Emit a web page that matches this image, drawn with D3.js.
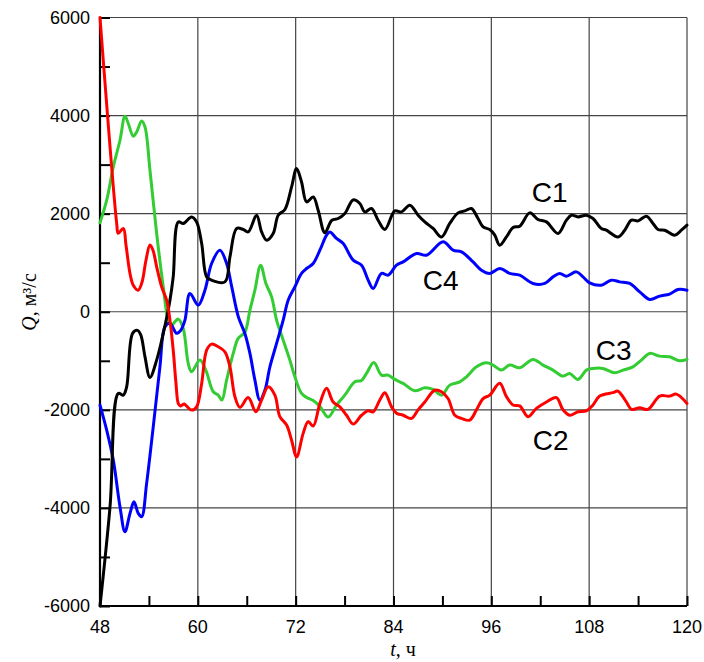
<!DOCTYPE html>
<html>
<head>
<meta charset="utf-8">
<script src="https://cdn.jsdelivr.net/npm/d3@7"></script>
<style>
  body { margin: 0; background: #fff; }
  .tick-label { font-family: "Liberation Sans", Arial, sans-serif; font-size: 18px; fill: #000; }
  .title { font-family: "Liberation Serif", "Times New Roman", serif; font-size: 20px; fill: #000; }
  .curve-label { font-family: "Liberation Sans", Arial, sans-serif; font-size: 28px; fill: #000; }
</style>
</head>
<body>
<div id="chart"></div>
<script>
// t (h), Q (m3/s)
const c1 = [[48,-6000],[49.23,-3976],[50.24,-1665],[50.86,-1700],[51.27,-1530],[52.0,-440],[52.6,-380],[53.0,-470],
  [53.52,-919],[54.13,-1339],[54.95,-986],[55.76,-442],[56.58,236],[56.98,711],[57.6,1832],[58.21,1800],[59.23,1934],
  [59.85,1832],[60.47,1392],[61.08,711],[61.69,644],[63.32,609],[63.94,1119],[64.76,1698],[65.57,1677],[66.18,1628],
  [67.21,1969],[67.82,1628],[68.43,1459],[69.24,1596],[69.86,1969],[70.68,2085],[71.5,2546],[72.11,2920],[72.72,2647],
  [73.34,2240],[74.15,2342],[74.76,2071],[75.58,1612],[76.44,1867],[77.22,1901],[78.03,2003],[79.05,2280],[79.87,2207],
  [80.48,2036],[81.3,2105],[82.11,1867],[82.94,1677],[84.16,2056],[84.98,2036],[86.0,2172],[87.02,1969],[87.84,1832],
  [88.86,1698],[89.89,1526],[90.9,1800],[91.92,2016],[92.74,2056],[93.56,2105],[94.37,1901],[94.99,1730],[95.81,1677],
  [96.42,1561],[97.03,1357],[97.85,1526],[98.66,1718],[99.48,1745],[100.71,2016],[101.73,1881],[102.76,1832],
  [104.18,1596],[105.21,1867],[105.82,1969],[106.63,1934],[107.66,1969],[108.47,1901],[109.5,1698],[110.11,1663],
  [111.53,1526],[112.36,1663],[113.18,1867],[113.99,1853],[115.02,1948],[115.83,1800],[116.44,1677],[117.26,1663],
  [118.49,1561],[119.31,1663],[120,1765]];

const c2 = [[48,6000],[50.05,1800],[50.24,1600],[50.86,1700],[51.19,1357],[51.68,780],[52.08,540],[52.69,440],
  [53.15,600],[53.64,1050],[54.13,1360],[54.5,1255],[54.95,915],[55.56,507],[56.18,230],[56.58,-170],[56.98,-780],
  [57.32,-1460],[57.6,-1870],[57.85,-1920],[58.33,-1880],[58.63,-1924],[59.24,-2005],[59.85,-1938],[60.47,-1461],
  [61.08,-783],[61.69,-660],[62.5,-715],[63.32,-817],[63.94,-1123],[64.55,-1734],[65.16,-1950],[66.18,-1750],
  [67.12,-2040],[67.82,-1800],[68.63,-1530],[69.45,-1700],[70.06,-2140],[70.89,-2310],[71.5,-2620],[72.11,-2960],
  [72.92,-2480],[73.53,-2240],[74.15,-2330],[74.97,-1870],[75.79,-1560],[76.6,-1840],[77.42,-1940],[78.24,-2110],
  [79.05,-2290],[80.08,-2110],[80.89,-2020],[81.5,-2040],[82.32,-1800],[82.94,-1650],[83.76,-1940],[84.37,-2070],
  [85.18,-2110],[86.21,-2175],[87.02,-2000],[87.84,-1840],[89.06,-1600],[89.89,-1630],[90.69,-1770],[91.52,-2110],
  [92.34,-2175],[93.35,-2210],[94.18,-2000],[94.99,-1770],[95.81,-1700],[97.03,-1460],[97.85,-1730],[98.66,-1900],
  [99.48,-1920],[100.5,-2140],[101.53,-1970],[102.76,-1840],[103.98,-1750],[104.79,-2000],[105.61,-2110],
  [106.63,-2040],[107.66,-2020],[108.47,-1900],[109.29,-1720],[110.92,-1650],[111.53,-1620],[112.56,-1840],
  [113.18,-1990],[114.2,-1960],[115.21,-1990],[116.65,-1720],[117.87,-1720],[118.69,-1680],[120,-1870]];

const c3 = [[48,1812],[48.82,2274],[49.63,2953],[50.45,3497],[51.06,3986],[51.47,3838],[52.08,3579],[52.5,3666],
  [53.11,3891],[53.52,3768],[54.13,2886],[54.95,1596],[55.76,507],[56.37,-171],[56.79,-280],[57.2,-200],[57.6,-150],
  [58.21,-340],[58.82,-1054],[59.23,-1225],[60.26,-986],[61.0,-1200],[61.89,-1632],[62.5,-1700],[62.95,-1802],
  [63.53,-1394],[64.34,-850],[64.95,-544],[65.77,-416],[66.39,33],[67.0,440],[67.7,950],[68.35,577],[69.05,304],
  [69.66,-171],[70.47,-579],[71.29,-986],[71.9,-1327],[72.72,-1665],[73.34,-1747],[74.15,-1812],[74.97,-1930],
  [75.98,-2148],[77.01,-1903],[78.03,-1700],[79.26,-1429],[80.08,-1400],[80.69,-1257],[81.59,-1037],[82.53,-1292],
  [83.34,-1292],[84.16,-1380],[85.18,-1461],[86.61,-1612],[87.84,-1551],[88.86,-1584],[89.89,-1700],[90.9,-1496],
  [92.13,-1429],[92.95,-1327],[94.18,-1123],[95.4,-1041],[96.21,-1088],[97.24,-1190],[98.26,-1088],[99.48,-1143],
  [101.11,-972],[102.34,-1088],[103.56,-1190],[104.79,-1312],[105.61,-1257],[106.63,-1380],[107.66,-1190],
  [108.47,-1156],[109.7,-1156],[111.13,-1245],[112.15,-1190],[113.37,-1123],[114.4,-986],[115.42,-850],
  [116.65,-905],[117.87,-919],[119.1,-1001],[120,-972]];

const c4 = [[48,-1903],[48.82,-2413],[49.63,-3024],[50.45,-3976],[51.06,-4486],[51.68,-4111],[52.17,-3874],
  [52.69,-4111],[53.11,-4180],[53.72,-3499],[54.53,-2346],[55.35,-1123],[55.97,-308],[56.58,-238],[57.4,-440],
  [57.9,-380],[58.42,-171],[59.03,373],[60.05,135],[60.87,440],[61.69,984],[62.71,1255],[63.53,984],[64.16,507],
  [64.97,-104],[65.77,-442],[66.39,-850],[67.0,-1394],[67.61,-1802],[68.23,-1598],[68.84,-1123],[69.66,-646],
  [70.47,-171],[71.08,236],[71.9,507],[72.72,781],[73.34,882],[74.15,984],[74.97,1255],[75.79,1561],[76.2,1628],
  [77.01,1494],[77.83,1392],[79.05,1052],[80.08,950],[80.89,644],[81.5,475],[82.53,781],[83.34,746],[84.37,950],
  [85.18,1017],[86.82,1188],[88.05,1153],[90.08,1425],[91.31,1255],[92.34,1221],[93.76,1017],[94.79,848],[95.81,781],
  [97.03,882],[98.26,781],[99.48,746],[101.11,577],[102.55,577],[103.56,711],[104.39,781],[105.21,726],[106.43,813],
  [107.24,711],[108.06,589],[109.5,542],[110.72,644],[111.74,609],[112.97,577],[114.2,406],[115.42,251],[116.65,318],
  [117.87,359],[118.89,454],[120,440]];

const xTicks = [48, 60, 72, 84, 96, 108, 120];
const yTicks = [-6000, -4000, -2000, 0, 2000, 4000, 6000];

const series = [
  { name: "C3", color: "#33cc33", values: c3 },
  { name: "C4", color: "#0000ff", values: c4 },
  { name: "C1", color: "#000000", values: c1 },
  { name: "C2", color: "#ff0000", values: c2 }
];

// label anchors (left/baseline) in data units
const labels = [
  { text: "C1", t: 100.96, q: 2234 },
  { text: "C4", t: 87.6, q: 440 },
  { text: "C3", t: 108.8, q: -986 },
  { text: "C2", t: 101.08, q: -2821 }
];

const width = 704, height = 662;
const margin = { left: 100, right: 687, top: 17.5, bottom: 606 };

const svg = d3.select("#chart").append("svg")
  .attr("width", width)
  .attr("height", height);

const x = d3.scaleLinear().domain([48, 120]).range([margin.left, margin.right]);
const y = d3.scaleLinear().domain([-6000, 6000]).range([margin.bottom, margin.top]);

// grid
const grid = svg.append("g").attr("stroke", "#444").attr("stroke-width", 1.2);
grid.selectAll(".gx").data(xTicks.slice(1)).enter().append("line")
  .attr("x1", d => x(d)).attr("x2", d => x(d))
  .attr("y1", margin.top).attr("y2", margin.bottom);
grid.selectAll(".gy").data(yTicks.slice(1)).enter().append("line")
  .attr("x1", margin.left).attr("x2", margin.right)
  .attr("y1", d => y(d)).attr("y2", d => y(d));

// axes with inner ticks
const xAxis = d3.axisBottom(x).tickValues(d3.range(48, 121, 6)).tickSize(-10).tickFormat("");
const yAxis = d3.axisLeft(y).tickValues(d3.range(-6000, 6001, 1000)).tickSize(-10).tickFormat("");

const gx = svg.append("g").attr("transform", `translate(0,${margin.bottom})`).call(xAxis);
const gy = svg.append("g").attr("transform", `translate(${margin.left},0)`).call(yAxis);
[gx, gy].forEach(g => {
  g.select(".domain").attr("stroke", "#000").attr("stroke-width", 2.2);
  g.selectAll(".tick line").attr("stroke", "#000").attr("stroke-width", 2);
});
gx.select(".domain").attr("d", `M${margin.left},0H${margin.right}`);
gy.select(".domain").attr("d", `M0,${margin.bottom}V${margin.top}`);

// tick labels
svg.append("g").selectAll("text").data(xTicks).enter().append("text")
  .attr("class", "tick-label")
  .attr("x", d => x(d)).attr("y", margin.bottom + 27)
  .attr("text-anchor", "middle")
  .text(d => d);

svg.append("g").selectAll("text").data(yTicks).enter().append("text")
  .attr("class", "tick-label")
  .attr("x", margin.left - 10).attr("y", d => y(d))
  .attr("dy", "0.36em")
  .attr("text-anchor", "end")
  .text(d => d);

// curves
const line = d3.line()
  .x(d => x(d[0]))
  .y(d => y(d[1]))
  .curve(d3.curveCatmullRom.alpha(0.5));

svg.append("g").selectAll("path").data(series).enter().append("path")
  .attr("fill", "none")
  .attr("stroke", d => d.color)
  .attr("stroke-width", 3)
  .attr("stroke-linejoin", "round")
  .attr("stroke-linecap", "round")
  .attr("d", d => line(d.values));

svg.append("g").selectAll("text").data(labels).enter().append("text")
  .attr("class", "curve-label")
  .attr("x", d => x(d.t)).attr("y", d => y(d.q))
  .text(d => d.text);

// axis titles
const xt = svg.append("text").attr("class", "title")
  .attr("x", 403).attr("y", 656)
  .attr("text-anchor", "middle");
xt.append("tspan").attr("font-style", "italic").text("t");
xt.append("tspan").text(", ч");

const yt = svg.append("text").attr("class", "title")
  .attr("transform", "translate(36,302) rotate(-90)")
  .attr("text-anchor", "middle");
yt.append("tspan").attr("font-style", "italic").text("Q");
yt.append("tspan").text(", м³/с");
</script>
</body>
</html>
